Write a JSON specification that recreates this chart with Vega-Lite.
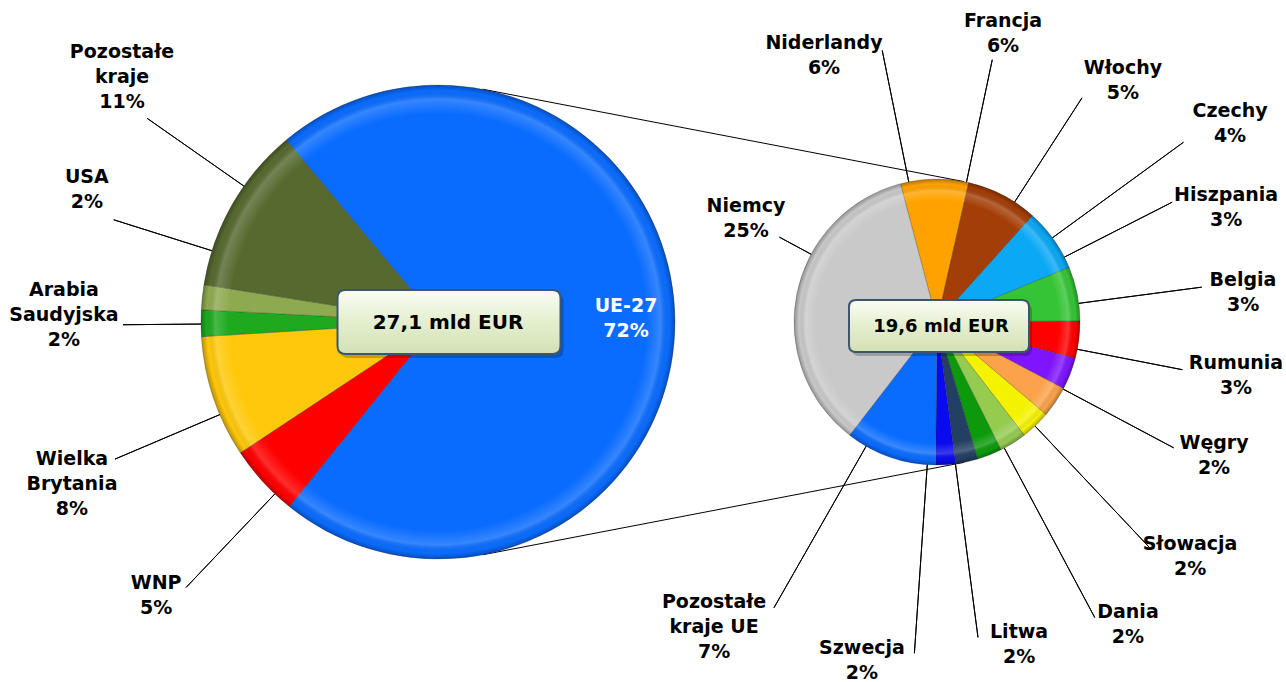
{
  "$schema": "https://vega.github.io/schema/vega-lite/v6.json",
  "width": 1286,
  "height": 644,
  "autosize": {"type": "none"},
  "padding": {"left": 0, "top": 0, "right": 0, "bottom": 38},
  "background": "white",
  "config": {"view": {"stroke": null}, "font": "DejaVu Sans"},
  "layer": [
    {
      "data": {"values": [
        {"pie": "Świat", "k": 1, "kraj": "UE-27", "udzial": 71.7},
        {"pie": "Świat", "k": 2, "kraj": "WNP", "udzial": 4.9},
        {"pie": "Świat", "k": 3, "kraj": "Wielka Brytania", "udzial": 8.3},
        {"pie": "Świat", "k": 4, "kraj": "Arabia Saudyjska", "udzial": 1.8},
        {"pie": "Świat", "k": 5, "kraj": "USA", "udzial": 1.7},
        {"pie": "Świat", "k": 6, "kraj": "Pozostałe kraje", "udzial": 11.4}
      ]},
      "encoding": {
        "x": {"field": "pie", "type": "nominal", "axis": null, "scale": {"type": "point", "domain": ["Świat", "UE"], "range": [438, 937], "padding": 0}}
      },
      "layer": [
        {
          "data": {"values": [{"pie": "Świat", "mld": 27.1}]},
          "mark": {"type": "point", "shape": "M0.0446,-0.2328L0.5259,-0.1404M0.0446,0.2328L0.5259,0.1404", "size": 4000000, "filled": false, "stroke": "#000000", "strokeWidth": 1, "opacity": 1}
        },
        {
          "mark": {"type": "arc", "outerRadius": 237, "stroke": "#1a1a1a", "strokeOpacity": 0.3, "strokeWidth": 0.8},
          "encoding": {
            "theta": {"field": "udzial", "type": "quantitative", "stack": true, "scale": {"range": [-0.6946, 5.5886]}},
            "order": {"field": "k", "type": "quantitative"},
            "color": {"field": "kraj", "type": "nominal", "legend": null, "scale": {
              "domain": ["UE-27", "WNP", "Wielka Brytania", "Arabia Saudyjska", "USA", "Pozostałe kraje"],
              "range": ["#0a6cff", "#ff0000", "#ffc80a", "#1eaa1e", "#8eaa50", "#566a30"]}}
          }
        },
        {
          "data": {"values": [{"pie": "Świat", "mld": 27.1}]},
          "mark": {"type": "arc", "outerRadius": 237, "theta": 0, "theta2": 6.2832, "fill": {"gradient": "radial", "x1": 0.5, "y1": 0.5, "r1": 0, "x2": 0.5, "y2": 0.5, "r2": 0.5, "stops": [
            {"offset": 0, "color": "rgba(255,255,255,0)"},
            {"offset": 0.88, "color": "rgba(255,255,255,0)"},
            {"offset": 0.94, "color": "rgba(255,255,255,0.18)"},
            {"offset": 0.975, "color": "rgba(0,0,0,0)"},
            {"offset": 1, "color": "rgba(0,0,0,0.28)"}]}}
        },
        {
          "transform": [{"filter": "datum.k > 1"}],
          "mark": {"type": "arc", "filled": false, "stroke": "#000000", "strokeWidth": 1},
          "encoding": {
            "theta": {"field": "k", "type": "quantitative", "stack": null, "scale": {"type": "linear", "zero": false, "nice": false, "domain": [2, 3, 4, 5, 6], "range": [3.9008, 4.311, 4.7037, 5.0178, 5.3233]}},
            "theta2": {"field": "k"},
            "radius": {"field": "k", "type": "quantitative", "scale": {"type": "linear", "zero": false, "nice": false, "domain": [2, 3, 4, 5, 6], "range": [366, 351, 315, 340, 355]}},
            "radius2": {"value": 237}
          }
        },
        {
          "transform": [{"calculate": "replace(datum.kraj, ' ', '\\n') + '\\n' + format(datum.udzial, '.0f') + '%'", "as": "etykieta"}],
          "mark": {"type": "text", "font": "DejaVu Sans", "fontWeight": "bold", "fontSize": 19, "lineHeight": 25, "lineBreak": "\n", "align": "center", "baseline": "middle"},
          "encoding": {
            "text": {"field": "etykieta"},
            "theta": {"field": "k", "type": "quantitative", "stack": null, "scale": {"type": "linear", "zero": false, "nice": false, "domain": [1, 2, 3, 4, 5, 6], "range": [1.486, 3.9654, 4.3546, 4.7979, 5.1033, 5.4193]}},
            "radius": {"field": "k", "type": "quantitative", "scale": {"type": "linear", "zero": false, "nice": false, "domain": [1, 2, 3, 4, 5, 6], "range": [188.7, 384.2, 390.8, 375.4, 379.8, 415.6]}},
            "color": {"condition": {"test": "datum.kraj === 'UE-27'", "value": "#ffffff"}, "value": "#000000"}
          }
        },
        {
          "data": {"values": [{"pie": "Świat", "mld": 27.1}]},
          "mark": {"type": "point", "shape": "M-0.928,-0.287L0.928,-0.287Q1,-0.287 1,-0.215L1,0.215Q1,0.287 0.928,0.287L-0.928,0.287Q-1,0.287 -1,0.215L-1,-0.215Q-1,-0.287 -0.928,-0.287Z", "size": 49729, "filled": true, "fill": "#000000", "opacity": 0.22, "strokeWidth": 0, "xOffset": 14, "yOffset": 4}
        },
        {
          "data": {"values": [{"pie": "Świat", "mld": 27.1}]},
          "mark": {"type": "point", "shape": "M-0.928,-0.287L0.928,-0.287Q1,-0.287 1,-0.215L1,0.215Q1,0.287 0.928,0.287L-0.928,0.287Q-1,0.287 -1,0.215L-1,-0.215Q-1,-0.287 -0.928,-0.287Z", "size": 49729, "filled": true, "opacity": 1, "stroke": "#3d566e", "strokeWidth": 2, "xOffset": 11, "yOffset": 0,
            "fill": {"gradient": "linear", "x1": 0, "y1": 0, "x2": 0, "y2": 1, "stops": [{"offset": 0, "color": "#fbfdf5"}, {"offset": 0.45, "color": "#e6f0d2"}, {"offset": 1, "color": "#d2e0b4"}]}}
        },
        {
          "data": {"values": [{"pie": "Świat", "mld": 27.1}]},
          "transform": [{"calculate": "replace(format(datum.mld, '.1f'), '.', ',') + ' mld EUR'", "as": "opis"}],
          "mark": {"type": "text", "font": "DejaVu Sans", "fontWeight": "bold", "fontSize": 20, "align": "center", "baseline": "middle", "dx": 10, "dy": 1, "color": "#000000"},
          "encoding": {"text": {"field": "opis"}}
        }
      ],
      "resolve": {"scale": {"theta": "independent", "radius": "independent"}}
    },
    {
      "data": {"values": [
        {"pie": "UE", "k": 1, "kraj": "Niderlandy", "udzial": 5.5},
        {"pie": "UE", "k": 2, "kraj": "Francja", "udzial": 5.8},
        {"pie": "UE", "k": 3, "kraj": "Włochy", "udzial": 5.1},
        {"pie": "UE", "k": 4, "kraj": "Czechy", "udzial": 4.4},
        {"pie": "UE", "k": 5, "kraj": "Hiszpania", "udzial": 3.0},
        {"pie": "UE", "k": 6, "kraj": "Belgia", "udzial": 2.6},
        {"pie": "UE", "k": 7, "kraj": "Rumunia", "udzial": 2.5},
        {"pie": "UE", "k": 8, "kraj": "Węgry", "udzial": 2.4},
        {"pie": "UE", "k": 9, "kraj": "Słowacja", "udzial": 2.2},
        {"pie": "UE", "k": 10, "kraj": "Dania", "udzial": 2.0},
        {"pie": "UE", "k": 11, "kraj": "Litwa", "udzial": 1.8},
        {"pie": "UE", "k": 12, "kraj": "Szwecja", "udzial": 1.6},
        {"pie": "UE", "k": 13, "kraj": "Pozostałe kraje UE", "udzial": 7.4},
        {"pie": "UE", "k": 14, "kraj": "Niemcy", "udzial": 25.4}
      ]},
      "encoding": {
        "x": {"field": "pie", "type": "nominal", "axis": null, "scale": {"type": "point", "domain": ["Świat", "UE"], "range": [438, 937], "padding": 0}}
      },
      "layer": [
        {
          "mark": {"type": "arc", "outerRadius": 143, "stroke": "#1a1a1a", "strokeOpacity": 0.3, "strokeWidth": 0.8},
          "encoding": {
            "theta": {"field": "udzial", "type": "quantitative", "stack": true, "scale": {"range": [-0.2583, 6.0249]}},
            "order": {"field": "k", "type": "quantitative"},
            "color": {"field": "kraj", "type": "nominal", "legend": null, "scale": {
              "domain": ["Niderlandy", "Francja", "Włochy", "Czechy", "Hiszpania", "Belgia", "Rumunia", "Węgry", "Słowacja", "Dania", "Litwa", "Szwecja", "Pozostałe kraje UE", "Niemcy"],
              "range": ["#ffa200", "#a33e08", "#0aa8f5", "#35c435", "#ff0000", "#7f15ff", "#fba24a", "#f5f200", "#95cc50", "#0c9a0c", "#233f62", "#0a0aee", "#0a6cff", "#c9c9c9"]}}
          }
        },
        {
          "data": {"values": [{"pie": "UE", "mld": 19.6}]},
          "mark": {"type": "arc", "outerRadius": 143, "theta": 0, "theta2": 6.2832, "fill": {"gradient": "radial", "x1": 0.5, "y1": 0.5, "r1": 0, "x2": 0.5, "y2": 0.5, "r2": 0.5, "stops": [
            {"offset": 0, "color": "rgba(255,255,255,0)"},
            {"offset": 0.85, "color": "rgba(255,255,255,0)"},
            {"offset": 0.92, "color": "rgba(255,255,255,0.2)"},
            {"offset": 0.965, "color": "rgba(0,0,0,0)"},
            {"offset": 1, "color": "rgba(0,0,0,0.28)"}]}}
        },
        {
          "mark": {"type": "arc", "filled": false, "stroke": "#000000", "strokeWidth": 1},
          "encoding": {
            "theta": {"field": "k", "type": "quantitative", "stack": null, "scale": {"type": "linear", "zero": false, "nice": false, "domain": [1, 2, 3, 4, 5, 6, 7, 8, 9, 10, 11, 12, 13, 14], "range": [6.0842, 0.2077, 0.5742, 0.9407, 1.0996, 1.4399, 1.7628, 2.0595, 2.3859, 2.6512, 3.0124, 3.2097, 3.66, 5.2063]}},
            "theta2": {"field": "k"},
            "radius": {"field": "k", "type": "quantitative", "scale": {"type": "linear", "zero": false, "nice": false, "domain": [1, 2, 3, 4, 5, 6, 7, 8, 9, 10, 11, 12, 13, 14], "range": [277, 268, 267, 305, 264, 267, 250, 268, 310, 335, 318, 332, 329, 179]}},
            "radius2": {"value": 143}
          }
        },
        {
          "transform": [{"calculate": "replace(datum.kraj, ' ', '\\n') + '\\n' + format(datum.udzial, '.0f') + '%'", "as": "etykieta"}],
          "mark": {"type": "text", "font": "DejaVu Sans", "fontWeight": "bold", "fontSize": 19, "lineHeight": 25, "lineBreak": "\n", "align": "center", "baseline": "middle", "color": "#000000"},
          "encoding": {
            "text": {"field": "etykieta"},
            "theta": {"field": "k", "type": "quantitative", "stack": null, "scale": {"type": "linear", "zero": false, "nice": false, "domain": [1, 2, 3, 4, 5, 6, 7, 8, 9, 10, 11, 12, 13, 14], "range": [5.8984, 0.2159, 0.632, 0.9467, 1.1568, 1.4344, 1.7071, 1.9827, 2.2909, 2.5592, 2.8829, 3.3678, 3.8141, 5.2581]}},
            "radius": {"field": "k", "type": "quantitative", "scale": {"type": "linear", "zero": false, "nice": false, "domain": [1, 2, 3, 4, 5, 6, 7, 8, 9, 10, 11, 12, 13, 14], "range": [301, 308.2, 314.8, 361.1, 315.7, 308.9, 301.8, 302.3, 336.6, 347.2, 320.7, 334.5, 357.9, 223.5]}}
          }
        },
        {
          "data": {"values": [{"pie": "UE", "mld": 19.6}]},
          "mark": {"type": "point", "shape": "M-0.922,-0.289L0.922,-0.289Q1,-0.289 1,-0.211L1,0.211Q1,0.289 0.922,0.289L-0.922,0.289Q-1,0.289 -1,0.211L-1,-0.211Q-1,-0.289 -0.922,-0.289Z", "size": 32400, "filled": true, "fill": "#000000", "opacity": 0.22, "strokeWidth": 0, "xOffset": 5, "yOffset": 8}
        },
        {
          "data": {"values": [{"pie": "UE", "mld": 19.6}]},
          "mark": {"type": "point", "shape": "M-0.922,-0.289L0.922,-0.289Q1,-0.289 1,-0.211L1,0.211Q1,0.289 0.922,0.289L-0.922,0.289Q-1,0.289 -1,0.211L-1,-0.211Q-1,-0.289 -0.922,-0.289Z", "size": 32400, "filled": true, "opacity": 1, "stroke": "#3d566e", "strokeWidth": 2, "xOffset": 2, "yOffset": 4,
            "fill": {"gradient": "linear", "x1": 0, "y1": 0, "x2": 0, "y2": 1, "stops": [{"offset": 0, "color": "#fbfdf5"}, {"offset": 0.45, "color": "#e6f0d2"}, {"offset": 1, "color": "#d2e0b4"}]}}
        },
        {
          "data": {"values": [{"pie": "UE", "mld": 19.6}]},
          "transform": [{"calculate": "replace(format(datum.mld, '.1f'), '.', ',') + ' mld EUR'", "as": "opis"}],
          "mark": {"type": "text", "font": "DejaVu Sans", "fontWeight": "bold", "fontSize": 18, "align": "center", "baseline": "middle", "dx": 4, "dy": 5, "color": "#000000"},
          "encoding": {"text": {"field": "opis"}}
        }
      ],
      "resolve": {"scale": {"theta": "independent", "radius": "independent"}}
    }
  ],
  "resolve": {"scale": {"theta": "independent", "radius": "independent", "color": "independent"}}
}
